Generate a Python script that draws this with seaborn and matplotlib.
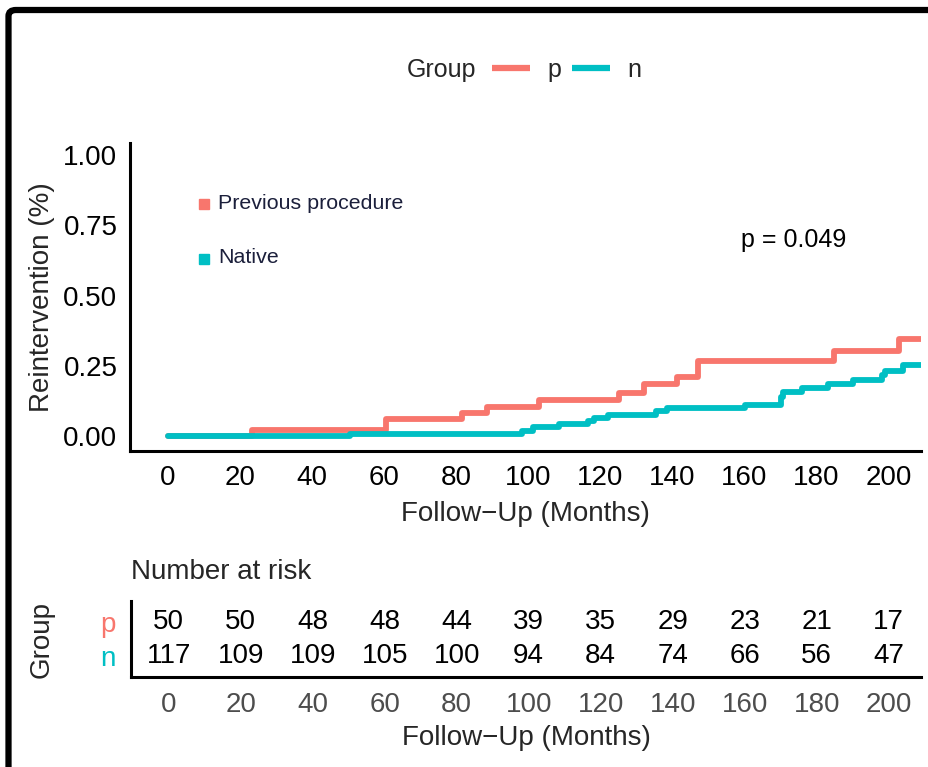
import numpy as np
import pandas as pd
import matplotlib
matplotlib.use("Agg")
import matplotlib.pyplot as plt
import seaborn as sns
from matplotlib.patches import FancyBboxPatch
from matplotlib.lines import Line2D

# Cumulative incidence of reintervention by group (step functions)
groups = ["p", "n"]
group_names = ["Previous procedure", "Native"]
palette = {"p": "#F8766D", "n": "#00BFC4"}

time_p = [0, 23.4, 60.5, 81.5, 88.5, 103.0, 125.2, 132.1, 141.2, 147.2, 184.9, 202.9, 209.0]
cuminc_p = [0.0, 0.020, 0.062, 0.083, 0.104, 0.128, 0.154, 0.184, 0.209, 0.267, 0.304, 0.344, 0.344]

time_n = [0, 50.6, 98.2, 101.4, 108.6, 116.7, 118.3, 122.2, 135.6, 138.4, 160.1,
          170.1, 170.8, 176.1, 183.2, 190.2, 198.1, 199.0, 204.0, 209.0]
cuminc_n = [0.0, 0.0085, 0.019, 0.031, 0.043, 0.055, 0.065, 0.076, 0.088, 0.099, 0.110,
            0.140, 0.156, 0.170, 0.184, 0.199, 0.217, 0.232, 0.253, 0.253]

# Number at risk table
risk_times = [0, 20, 40, 60, 80, 100, 120, 140, 160, 180, 200]
risk_p = [50, 50, 48, 48, 44, 39, 35, 29, 23, 21, 17]
risk_n = [117, 109, 109, 105, 100, 94, 84, 74, 66, 56, 47]

p_value = 0.049

sns.set_style("white")
plt.rcParams["font.family"] = ["Liberation Sans", "DejaVu Sans"]

W, H = 929, 767
fig = plt.figure(figsize=(W / 100, H / 100), dpi=100)

def box(l, t, r, b):
    return [l / W, 1 - b / H, (r - l) / W, (b - t) / H]

ax = fig.add_axes(box(130, 143, 921, 451))
axr = fig.add_axes(box(131, 601, 921, 677))

FS = 20

df = pd.concat([
    pd.DataFrame({"time": time_p, "cuminc": cuminc_p, "Group": "p"}),
    pd.DataFrame({"time": time_n, "cuminc": cuminc_n, "Group": "n"}),
], ignore_index=True)

sns.lineplot(data=df, x="time", y="cuminc", hue="Group", hue_order=groups,
             palette=palette, estimator=None, sort=False, drawstyle="steps-post",
             linewidth=4.2, legend=False, ax=ax,
             solid_capstyle="round", solid_joinstyle="round")

ax.set_xlim(-10.5, 209)
ax.set_ylim(-0.053, 1.043)
ax.set_xticks(risk_times)
ax.set_yticks([0, 0.25, 0.5, 0.75, 1.0])
ax.set_yticklabels(["0.00", "0.25", "0.50", "0.75", "1.00"])
ax.set_xlabel("Follow\u2212Up (Months)", fontsize=FS, labelpad=7)
ax.set_ylabel("Reintervention (%)", fontsize=FS, labelpad=6)
for s in ["top", "right"]:
    ax.spines[s].set_visible(False)
for s in ["left", "bottom"]:
    ax.spines[s].set_linewidth(2.2)
    ax.spines[s].set_color("black")
ax.tick_params(axis="both", length=5, width=2, color="#222222", labelsize=FS,
               labelcolor="black", pad=4)
ax.tick_params(axis="x", pad=5)

# Group annotations inside the plot
ax.plot([10.1], [0.826], marker="s", markersize=7, color=palette["p"], linestyle="none")
ax.plot([10.1], [0.632], marker="s", markersize=7, color=palette["n"], linestyle="none")
ax.text(14.0, 0.829, group_names[0], fontsize=15.4, color="#1B1F3B", va="center", ha="left")
ax.text(14.0, 0.637, group_names[1], fontsize=15.4, color="#1B1F3B", va="center", ha="left")
ax.text(159, 0.697, f"p = {p_value:.3f}", fontsize=18, color="black", va="center", ha="left")

# Top legend
fig.text(407 / W, 1 - 70 / H, "Group", fontsize=18, va="center", ha="left")
handles = [Line2D([], [], color=palette[g], linewidth=4.5, solid_capstyle="butt") for g in groups]
fig.legend(handles, groups, loc="center left", bbox_to_anchor=(492 / W, 1 - 70 / H),
           ncol=2, frameon=False, fontsize=18, handlelength=1.5, handletextpad=0.7,
           columnspacing=0.45, borderpad=0, borderaxespad=0)

# Risk table
rows = {"p": 2, "n": 1}
for t, a, b in zip(risk_times, risk_p, risk_n):
    axr.text(t, rows["p"], str(a), fontsize=FS, ha="center", va="center", color="black")
    axr.text(t, rows["n"], str(b), fontsize=FS, ha="center", va="center", color="black")
axr.set_xlim(-10.5, 209)
axr.set_ylim(0.4, 2.6)
axr.set_xticks(risk_times)
axr.set_yticks([rows["p"], rows["n"]])
axr.set_yticklabels(groups)
for lab, g in zip(axr.get_yticklabels(), groups):
    lab.set_color(palette[g])
for s in ["top", "right"]:
    axr.spines[s].set_visible(False)
for s in ["left", "bottom"]:
    axr.spines[s].set_linewidth(2.2)
    axr.spines[s].set_color("black")
axr.tick_params(axis="both", length=5, width=2, color="#333333", labelsize=FS, pad=6)
axr.tick_params(axis="x", labelcolor="#4D4D4D", pad=5.5)
axr.set_xlabel("Follow\u2212Up (Months)", fontsize=FS, labelpad=5)
axr.set_ylabel("Group", fontsize=FS, labelpad=33)
axr.set_title("Number at risk", loc="left", fontsize=FS, pad=16)

# Panel frame
frame = FancyBboxPatch((8.5 / W, -0.1), 1.2, 1 - 10 / H + 0.1,
                       boxstyle="round,pad=0,rounding_size=0.008",
                       transform=fig.transFigure, fill=False, lw=4.5,
                       ec="black", clip_on=False)
fig.add_artist(frame)

fig.savefig("out.png", dpi=100)
